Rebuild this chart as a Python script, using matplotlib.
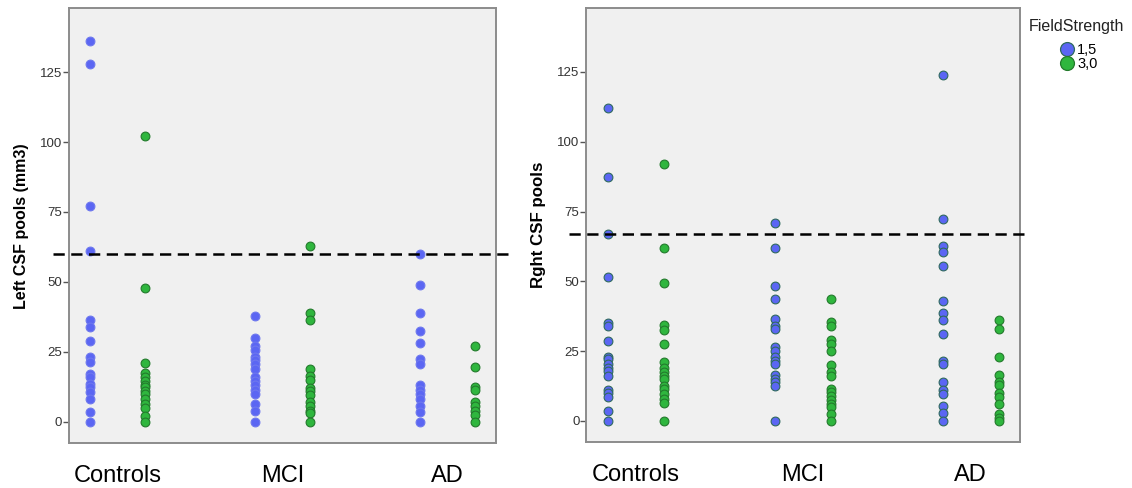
import numpy as np
import matplotlib
matplotlib.use("Agg")
import matplotlib.pyplot as plt
from matplotlib.lines import Line2D

GROUPS = ["Controls", "MCI", "AD"]
FIELD = ["1,5", "3,0"]

# left CSF pools (mm3), per group, 1.5T then 3.0T
LEFT_15 = [
    [136, 128, 77, 61, 36.5, 34, 29, 23, 21.5, 17, 16, 13.5, 12.5, 10.5, 8, 3.5, 0],
    [38, 30, 27, 25.5, 23, 22, 20.5, 19, 16, 14.5, 13, 11.5, 10, 6.5, 4, 0],
    [60, 49, 39, 32.5, 28, 22.5, 20.5, 13, 11.5, 10, 8, 5.5, 3.5, 0],
]
LEFT_30 = [
    [102, 48, 21, 17.5, 16, 14.5, 13, 12.5, 11, 10, 8, 6.5, 5, 2, 0],
    [63, 39, 36.5, 19, 16.5, 15, 12, 11, 9.5, 7, 5.5, 4, 3, 0],
    [27, 19.5, 12.5, 11.5, 7, 5.5, 4, 2.5, 0],
]
# right CSF pools
RIGHT_15 = [
    [112, 87.5, 67, 51.5, 35, 34, 28.5, 23, 22, 20.5, 19, 18, 16, 11, 10, 8.5, 3.5, 0],
    [71, 62, 48.5, 43.5, 36.5, 34, 33, 26.5, 25, 23, 21.5, 20.5, 16.5, 15, 14, 12.5, 0],
    [124, 72.5, 62.5, 60.5, 55.5, 43, 38.5, 36, 31, 21.5, 20.5, 14, 11, 9.5, 5.5, 3, 0],
]
RIGHT_30 = [
    [92, 62, 49.5, 34.5, 32.5, 27.5, 21, 19, 17.5, 16, 15, 12.5, 11.5, 9.5, 8, 6.5, 0],
    [43.5, 35.5, 34, 29, 27.5, 25, 20, 17.5, 16, 11.5, 10.5, 9, 7.5, 6, 5, 2.5, 0],
    [36, 33, 23, 16.5, 14, 13, 10, 8.5, 6, 2.5, 1, 0],
]
LEFT_CUT = 60
RIGHT_CUT = 67

BLUE = "#5b66f3"
GREEN = "#2fb63e"
GREEN_EDGE = "#237a2c"

plt.rcParams["font.family"] = ["Liberation Sans", "DejaVu Sans"]

fig = plt.figure(figsize=(11.32, 4.88), dpi=100)
axL = fig.add_axes([0.061, 0.092, 0.377, 0.891])
axR = fig.add_axes([0.518, 0.094, 0.383, 0.889])


def panel(ax, d15, d30, cut, ylabel, blue_edge, cut_x, ysize):
    ax.set_facecolor("#f0f0f0")
    dx = 0.167
    for i in range(len(GROUPS)):
        ax.scatter(np.full(len(d15[i]), i - dx), d15[i], s=40, color=BLUE,
                   edgecolors=blue_edge, linewidths=0.8, zorder=3)
        ax.scatter(np.full(len(d30[i]), i + dx), d30[i], s=40, color=GREEN,
                   edgecolors=GREEN_EDGE, linewidths=0.8, zorder=3)
    ax.add_line(Line2D(cut_x, [cut, cut], transform=ax.get_yaxis_transform(),
                       color="black", lw=1.8, ls=(0, (4.5, 2.6)), clip_on=False,
                       zorder=4))
    ax.set_xlim(-0.294, 2.294)
    ax.set_ylim(-7.6, 147.8)
    ax.set_yticks([0, 25, 50, 75, 100, 125])
    ax.set_xticks(range(len(GROUPS)))
    ax.set_xticklabels(GROUPS, fontsize=17)
    ax.tick_params(axis="x", length=0, pad=16)
    ax.tick_params(axis="y", length=4, width=1, color="#555555", labelsize=9.5,
                   labelcolor="#333333", pad=1)
    for sp in ax.spines.values():
        sp.set_color("#8c8c8c")
        sp.set_linewidth(1.4)
    ax.set_ylabel(ylabel, fontsize=ysize, fontweight="bold", labelpad=8)


panel(axL, LEFT_15, LEFT_30, LEFT_CUT, "Left CSF pools (mm3)", "#6e78ee",
      [-0.037, 1.04], 11.5)
panel(axR, RIGHT_15, RIGHT_30, RIGHT_CUT, "Rght CSF pools", "#2f6a5e",
      [-0.041, 1.018], 12.2)

handles = [
    Line2D([], [], marker="o", ls="", markersize=10, markerfacecolor=BLUE,
           markeredgecolor="#2f6a5e", markeredgewidth=0.9),
    Line2D([], [], marker="o", ls="", markersize=10, markerfacecolor=GREEN,
           markeredgecolor=GREEN_EDGE, markeredgewidth=0.9),
]
fig.text(0.909, 0.945, "FieldStrength", fontsize=11.5, color="#222222", va="center")
fig.legend(handles, FIELD, loc="upper left", bbox_to_anchor=(0.9285, 0.927),
           frameon=False, fontsize=10.5, handletextpad=0.1, labelspacing=0.02,
           borderpad=0, handlelength=1.2)

fig.savefig("out.png", dpi=100)
